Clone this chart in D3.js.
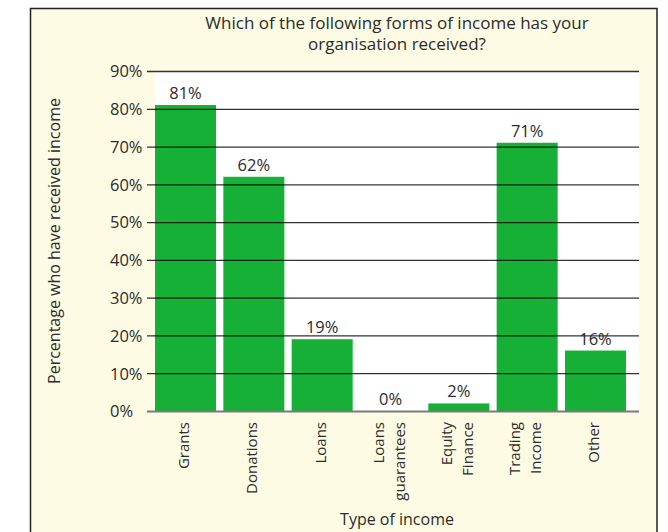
<!DOCTYPE html>
<html>
<head>
<meta charset="utf-8">
<script src="https://cdn.jsdelivr.net/npm/d3@7"></script>
<style>
  html, body { margin: 0; padding: 0; background: #ffffff; }
  svg { display: block; }
  text { font-family: "Open Sans", "Noto Sans", sans-serif; fill: #2b2b2b; }
</style>
</head>
<body>
<svg id="chart" width="668" height="532"></svg>
<script>
// Survey: forms of income received
const categories = ["Grants", "Donations", "Loans", "Loans\nguarantees", "Equity\nFinance", "Trading\nIncome", "Other"];
const percentages = [81, 62, 19, 0, 2, 71, 16];
const yTickValues = [0, 10, 20, 30, 40, 50, 60, 70, 80, 90];
const titleLines = ["Which of the following forms of income has your", "organisation received?"];
const yAxisTitle = "Percentage who have received income";
const xAxisTitle = "Type of income";

const svg = d3.select("#chart");
const H = 532;

// outer panel
svg.append("rect")
  .attr("x", 30.5).attr("y", 8.5)
  .attr("width", 626.5).attr("height", H)
  .attr("fill", "#fdfbe3")
  .attr("stroke", "#222").attr("stroke-width", 1.5);

const plot = { left: 155, right: 639, top: 71, bottom: 411 };

const y = d3.scaleLinear().domain([0, 90]).range([plot.bottom, plot.top]);
const x = d3.scaleBand()
  .domain(categories)
  .range([plot.left, 626])
  .paddingInner(0.107)
  .paddingOuter(0);

// white plotting area
svg.append("rect")
  .attr("x", plot.left).attr("y", plot.top)
  .attr("width", plot.right - plot.left).attr("height", plot.bottom - plot.top)
  .attr("fill", "#ffffff");

// bars
svg.append("g").selectAll("rect")
  .data(categories)
  .join("rect")
  .attr("x", d => x(d))
  .attr("width", x.bandwidth())
  .attr("y", (d, i) => y(percentages[i]))
  .attr("height", (d, i) => y(0) - y(percentages[i]))
  .attr("fill", "#16b036");

// gridlines with ticks, drawn over the bars
const yAxis = d3.axisLeft(y)
  .tickValues(yTickValues)
  .tickSize(-(plot.right - plot.left) - 8)
  .tickFormat(d => d + "%");

const gy = svg.append("g")
  .attr("transform", `translate(${plot.right},0)`)
  .call(yAxis);
gy.select(".domain").remove();
gy.selectAll(".tick line")
  .attr("x1", 0)
  .attr("x2", -(plot.right - plot.left) - 8)
  .attr("stroke", d => d === 0 ? "#7a7a7a" : "#000")
  .attr("stroke-opacity", d => d === 0 ? 1 : 0.8)
  .attr("stroke-width", d => d === 0 ? 2 : 1.3);
gy.selectAll(".tick text")
  .attr("x", 110 - plot.right)
  .attr("text-anchor", "start")
  .attr("dy", "0.35em")
  .style("font-family", "'Open Sans', 'Noto Sans', sans-serif")
  .style("font-size", "16.5px")
  .attr("fill", "#2b2b2b");

// value labels
svg.append("g").selectAll("text")
  .data(categories)
  .join("text")
  .attr("x", d => x(d) + x.bandwidth() / 2)
  .attr("y", (d, i) => y(percentages[i]) - 6)
  .attr("text-anchor", "middle")
  .style("font-size", "16.5px")
  .text((d, i) => percentages[i] + "%");

// rotated category labels
const lineGap = 21;
const xl = svg.append("g");
categories.forEach(c => {
  const lines = c.split("\n");
  const cx = x(c) + x.bandwidth() / 2;
  lines.forEach((ln, j) => {
    const bx = cx + 3.5 - (lines.length - 1) * 10.5 + j * lineGap;
    xl.append("text")
      .attr("transform", `translate(${bx},422) rotate(-90)`)
      .attr("text-anchor", "end")
      .style("font-size", "15px")
      .text(ln);
  });
});

// titles
const tcx = (plot.left + plot.right) / 2;
svg.append("g").selectAll("text")
  .data(titleLines)
  .join("text")
  .attr("x", tcx)
  .attr("y", (d, i) => 29 + i * 21)
  .attr("text-anchor", "middle")
  .style("font-size", "17px")
  .text(d => d);

svg.append("text")
  .attr("transform", `translate(60,${(plot.top + plot.bottom) / 2}) rotate(-90)`)
  .attr("text-anchor", "middle")
  .style("font-size", "16px")
  .text(yAxisTitle);

svg.append("text")
  .attr("x", tcx)
  .attr("y", 525)
  .attr("text-anchor", "middle")
  .style("font-size", "16px")
  .text(xAxisTitle);
</script>
</body>
</html>
